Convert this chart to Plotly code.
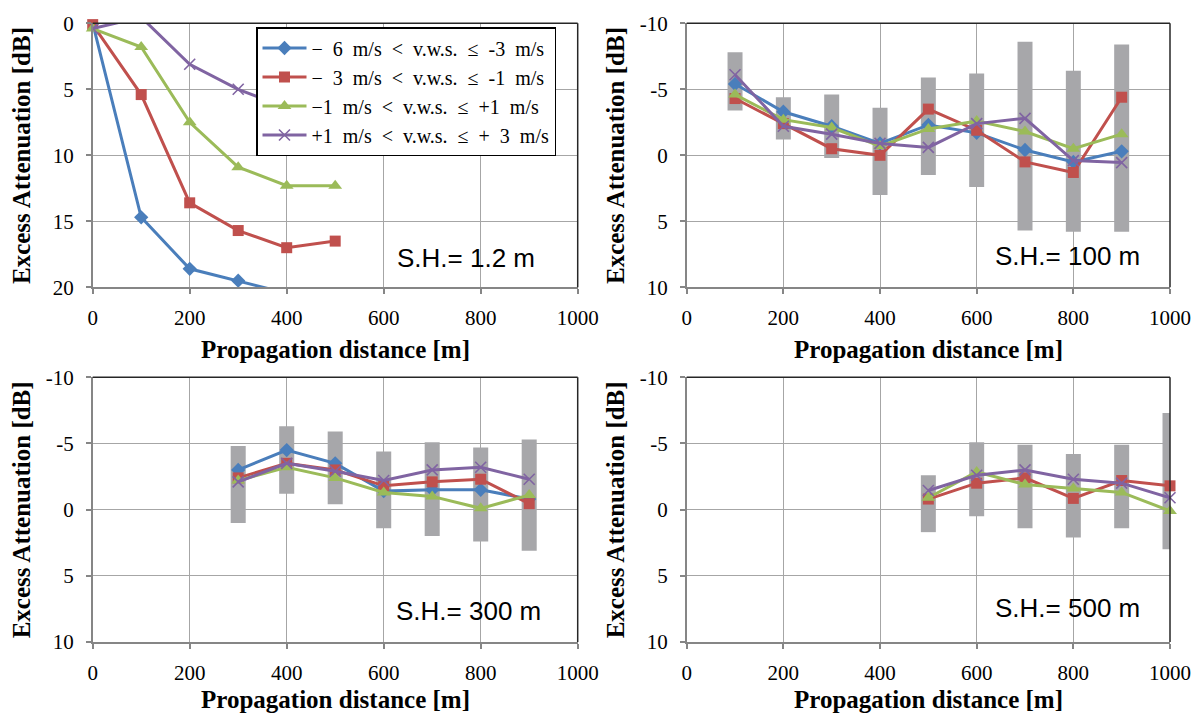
import plotly.graph_objects as go

# ---- wind-speed classes (legend) ----
EN = "\u2002"
class_names = [
    f"−{EN}6{EN}m/s{EN}&lt;{EN}v.w.s.{EN}≤{EN}-3{EN}m/s",
    f"−{EN}3{EN}m/s{EN}&lt;{EN}v.w.s.{EN}≤{EN}-1{EN}m/s",
    f"−1{EN}m/s{EN}&lt;{EN}v.w.s.{EN}≤{EN}+1{EN}m/s",
    f"+1{EN}m/s{EN}&lt;{EN}v.w.s.{EN}≤{EN}+{EN}3{EN}m/s",
]

# ---- S.H. = 1.2 m ----
dist_12 = [0, 100, 200, 300, 400, 500]
ea12_neg6 = [0.0, 14.7, 18.6, 19.5, 20.45, 21.0]
ea12_neg3 = [0.1, 5.4, 13.6, 15.7, 17.0, 16.5]
ea12_neg1 = [0.4, 1.8, 7.5, 10.9, 12.3, 12.3]
ea12_pos1 = [0.4, -0.46, 3.1, 5.0, 6.4, 7.0]

# ---- S.H. = 100 m ----
dist_100 = [100, 200, 300, 400, 500, 600, 700, 800, 900]
ea100_neg6 = [-5.4, -3.3, -2.2, -0.9, -2.3, -1.7, -0.4, 0.5, -0.3]
ea100_neg3 = [-4.3, -2.4, -0.5, 0.0, -3.5, -1.9, 0.5, 1.3, -4.4]
ea100_neg1 = [-4.6, -2.7, -2.1, -0.7, -2.0, -2.6, -1.8, -0.5, -1.6]
ea100_pos1 = [-6.1, -2.2, -1.6, -0.9, -0.6, -2.4, -2.8, 0.4, 0.55]
span100_lo = [-7.8, -4.4, -4.6, -3.6, -5.9, -6.2, -8.6, -6.4, -8.4]
span100_hi = [-3.4, -1.2, 0.2, 3.0, 1.5, 2.4, 5.7, 5.8, 5.8]

# ---- S.H. = 300 m ----
dist_300 = [300, 400, 500, 600, 700, 800, 900]
ea300_neg6 = [-3.0, -4.5, -3.5, -1.4, -1.5, -1.5, -0.8]
ea300_neg3 = [-2.4, -3.5, -3.0, -1.8, -2.1, -2.3, -0.45]
ea300_neg1 = [-2.2, -3.2, -2.4, -1.3, -1.0, -0.1, -1.1]
ea300_pos1 = [-2.1, -3.5, -2.9, -2.2, -3.0, -3.2, -2.3]
span300_lo = [-4.8, -6.3, -5.9, -4.4, -5.1, -4.7, -5.3]
span300_hi = [1.0, -1.2, -0.4, 1.4, 2.0, 2.4, 3.1]

# ---- S.H. = 500 m ----
dist_500 = [500, 600, 700, 800, 900, 1000]
ea500_neg3 = [-0.8, -2.0, -2.4, -0.85, -2.2, -1.8]
ea500_neg1 = [-0.9, -2.85, -1.9, -1.6, -1.3, 0.1]
ea500_pos1 = [-1.45, -2.6, -3.0, -2.3, -2.0, -0.9]
span500_lo = [-2.6, -5.1, -4.9, -4.2, -4.9, -7.3]
span500_hi = [1.7, 0.5, 1.4, 2.1, 1.4, 3.0]

# ---- axis ticks ----
x_ticks = [0, 200, 400, 600, 800, 1000]
y_ticks_12 = [0, 5, 10, 15, 20]
y_ticks_std = [-10, -5, 0, 5, 10]
y_ticktext_std = ["-10", "-5", "0", "5", "10"]

# ---- styling ----
COLORS = ["#4a7ebb", "#c0504d", "#9bbb59", "#8064a2"]
SYMBOLS = ["diamond", "square", "triangle-up", "x-thin"]
SIZES = [11, 11, 12, 11]
BAR_COLOR = "#a7a7aa"
SERIF = "Liberation Serif, Times New Roman, serif"
SANS = "Liberation Sans, Arial, sans-serif"
GRID = "#a6a6a6"
AXIS = "#868686"
FRAME = "#262626"

W, H = 1198, 716
XL = [92.7 / W, 577.7 / W]
XR = [686.7 / W, 1170.0 / W]
YT = [1 - 287.3 / H, 1 - 23.3 / H]
YB = [1 - 642.0 / H, 1 - 377.3 / H]

fig = go.Figure()


def add_lines(xa, ya, x, series, show_legend=False, clip=None):
    for i, vals in series:
        mk = dict(symbol=SYMBOLS[i], size=SIZES[i], color=COLORS[i])
        if SYMBOLS[i] == "x-thin":
            mk["line"] = dict(color=COLORS[i], width=1.6)
        fig.add_trace(go.Scatter(
            x=x, y=vals, xaxis=xa, yaxis=ya, mode="lines+markers",
            name=class_names[i],
            line=dict(color=COLORS[i], width=3),
            marker=mk, showlegend=show_legend,
            cliponaxis=(True if clip is None else clip[i]),
        ))


def add_spans(xa, ya, x, lo, hi):
    fig.add_trace(go.Bar(
        x=x, y=[h - l for l, h in zip(lo, hi)], base=lo,
        xaxis=xa, yaxis=ya, width=31, marker=dict(color=BAR_COLOR, line=dict(width=0)),
        showlegend=False, hoverinfo="skip",
    ))


# range bars behind the mean curves
add_spans("x2", "y2", dist_100, span100_lo, span100_hi)
add_spans("x3", "y3", dist_300, span300_lo, span300_hi)
add_spans("x4", "y4", dist_500, span500_lo, span500_hi)

add_lines("x", "y", dist_12,
          [(0, ea12_neg6), (1, ea12_neg3), (2, ea12_neg1), (3, ea12_pos1)],
          show_legend=True, clip=[True, False, False, True])
add_lines("x2", "y2", dist_100,
          [(0, ea100_neg6), (1, ea100_neg3), (2, ea100_neg1), (3, ea100_pos1)], clip=[False] * 4)
add_lines("x3", "y3", dist_300,
          [(0, ea300_neg6), (1, ea300_neg3), (2, ea300_neg1), (3, ea300_pos1)], clip=[False] * 4)
add_lines("x4", "y4", dist_500,
          [(1, ea500_neg3), (2, ea500_neg1), (3, ea500_pos1)], clip=[False] * 4)

tick_font = dict(family=SERIF, size=21, color="#000000")


def xaxis(domain, anchor):
    return dict(domain=domain, anchor=anchor, range=[0, 1000], tickvals=x_ticks,
                showgrid=True, gridcolor=GRID, gridwidth=1, zeroline=False,
                showline=True, linecolor=AXIS, linewidth=1.5,
                ticks="outside", ticklen=5, tickcolor=AXIS, tickwidth=1.5,
                tickfont=tick_font, ticklabelstandoff=6, fixedrange=True,
                automargin=False)


def yaxis(domain, anchor, rng, vals, text):
    return dict(domain=domain, anchor=anchor, range=rng, tickvals=vals, ticktext=text,
                showgrid=True, gridcolor=GRID, gridwidth=1, zeroline=False,
                showline=True, linecolor=AXIS, linewidth=1.5,
                ticks="outside", ticklen=5, tickcolor=AXIS, tickwidth=1.5,
                tickfont=tick_font, ticklabelstandoff=8, fixedrange=True,
                automargin=False)


fig.update_layout(
    width=W, height=H, margin=dict(l=0, r=0, t=0, b=0, autoexpand=False),
    autosize=False,
    paper_bgcolor="white", plot_bgcolor="white",
    barmode="overlay",
    xaxis=xaxis(XL, "y"),
    yaxis=yaxis(YT, "x", [20, 0], y_ticks_12, [str(v) for v in y_ticks_12]),
    xaxis2=xaxis(XR, "y2"),
    yaxis2=yaxis(YT, "x2", [10, -10], y_ticks_std, y_ticktext_std),
    xaxis3=xaxis(XL, "y3"),
    yaxis3=yaxis(YB, "x3", [10, -10], y_ticks_std, y_ticktext_std),
    xaxis4=xaxis(XR, "y4"),
    yaxis4=yaxis(YB, "x4", [10, -10], y_ticks_std, y_ticktext_std),
    legend=dict(
        x=256 / W, y=1 - 27 / H, xanchor="left", yanchor="top",
        bgcolor="white", bordercolor="#000000", borderwidth=1.5,
        font=dict(family=SERIF, size=20, color="#000000"),
        itemwidth=44, tracegroupgap=0, traceorder="normal",
    ),
    showlegend=True,
)

# dark frame on the top and right edges of each plot area
shapes = []
for xa, ya in [("x", "y"), ("x2", "y2"), ("x3", "y3"), ("x4", "y4")]:
    shapes.append(dict(type="line", xref=f"{xa} domain", yref=f"{ya} domain",
                       x0=0, x1=1, y0=1, y1=1, line=dict(color=FRAME, width=1.5), layer="above"))
    shapes.append(dict(type="line", xref=f"{xa} domain", yref=f"{ya} domain",
                       x0=1, x1=1, y0=0, y1=1, line=dict(color=FRAME, width=1.5), layer="above"))
fig.update_layout(shapes=shapes)

title_font = dict(family=SERIF, size=25, color="#000000")
sh_font = dict(family=SANS, size=26, color="#000000")
annotations = []
panels = [("x", "y", "S.H.= 1.2 m", 0.770, 0.111, -62),
          ("x2", "y2", "S.H.= 100 m", 0.787, 0.117, -62),
          ("x3", "y3", "S.H.= 300 m", 0.775, 0.117, -57),
          ("x4", "y4", "S.H.= 500 m", 0.787, 0.128, -57)]
for xa, ya, label, lx, ly, title_shift in panels:
    annotations.append(dict(text="<b>Propagation distance [m]</b>", xref=f"{xa} domain", yref=f"{ya} domain",
                            x=0.5, y=0, xanchor="center", yanchor="middle", yshift=title_shift,
                            showarrow=False, font=title_font))
    annotations.append(dict(text="<b>Excess Attenuation [dB]</b>", xref=f"{xa} domain", yref=f"{ya} domain",
                            x=0, y=0.5, xanchor="center", yanchor="middle", xshift=-71, textangle=-90,
                            showarrow=False, font=title_font))
    annotations.append(dict(text=label, xref=f"{xa} domain", yref=f"{ya} domain",
                            x=lx, y=ly, xanchor="center", yanchor="middle",
                            showarrow=False, font=sh_font))
fig.update_layout(annotations=annotations)

fig.write_html("out.html")
